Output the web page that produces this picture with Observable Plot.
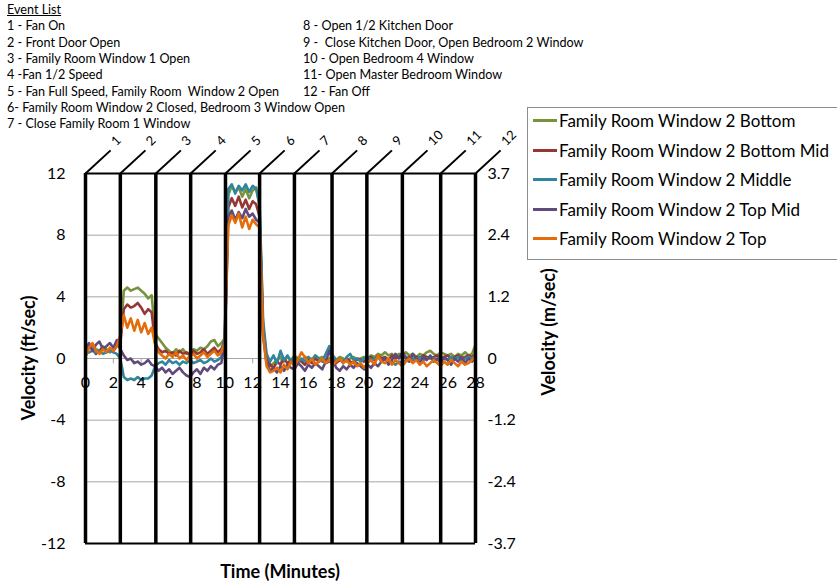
<!DOCTYPE html>
<html>
<head>
<meta charset="utf-8">
<script src="https://cdn.jsdelivr.net/npm/d3@7"></script>
<script src="https://cdn.jsdelivr.net/npm/@observablehq/plot@0.6"></script>
<style>
  body { margin: 0; background: #fff; font-family: Lato, "Open Sans", sans-serif; }
  #wrap { position: relative; width: 837px; height: 583px; overflow: hidden; }
  #chart { position: absolute; left: 0; top: 0; }
  .ev { position: absolute; font-size: 12.6px; line-height: 16.3px; color: #000; white-space: pre; }
  .title { position: absolute; font-size: 18px; font-weight: bold; white-space: nowrap; color: #000; }
  #legend { position: absolute; left: 527px; top: 107px; width: 320px; height: 153px; border: 1px solid #8c8c8c; background: #fff; box-sizing: border-box; }
  .lg { position: absolute; left: 5px; font-size: 17px; white-space: nowrap; display: flex; align-items: center; }
  .lg span.sw { display: inline-block; width: 24px; height: 0; border-top: 3px solid; margin-right: 2px; }
</style>
</head>
<body>
<div id="wrap">
  <div id="chart"></div>
  <div id="events"></div>
  <div id="legend"></div>
  <div class="title" id="ylab" style="left:28px; top:358px; transform: translate(-50%,-50%) rotate(-90deg);">Velocity (ft/sec)</div>
  <div class="title" id="ylab2" style="left:548px; top:332px; transform: translate(-50%,-50%) rotate(-90deg);">Velocity (m/sec)</div>
  <div class="title" id="xlab" style="left:280px; top:571px; transform: translate(-50%,-50%);">Time (Minutes)</div>
</div>
<script>
// ---- data ----
const minutes = [0,0.25,0.5,0.75,1,1.25,1.5,1.75,2,2.25,2.5,2.75,3,3.25,3.5,3.75,4,4.25,4.5,4.75,
  5,5.25,5.5,5.75,6,6.25,6.5,6.75,7,7.25,7.5,7.75,8,8.25,8.5,8.75,9,9.25,9.5,9.75,
  10,10.25,10.5,10.75,11,11.25,11.5,11.75,12,12.25,12.5,12.75,13,13.25,13.5,13.75,14,14.25,14.5,14.75,
  15,15.25,15.5,15.75,16,16.25,16.5,16.75,17,17.25,17.5,17.75,18,18.25,18.5,18.75,19,19.25,19.5,19.75,
  20,20.25,20.5,20.75,21,21.25,21.5,21.75,22,22.25,22.5,22.75,23,23.25,23.5,23.75,24,24.25,24.5,24.75,
  25,25.25,25.5,25.75,26,26.25,26.5,26.75,27,27.25,27.5,27.75,28];

const seriesNames = ["Family Room Window 2 Bottom","Family Room Window 2 Bottom Mid","Family Room Window 2 Middle","Family Room Window 2 Top Mid","Family Room Window 2 Top"];
const seriesColors = ["#77933C","#953735","#31859C","#604A7B","#E46C0A"];

const bottom = [0.3,0.7,0.9,0.6,0.5,0.8,0.6,0.4,0.7,0.9,
  1.2,4.4,4.6,4.4,4.5,4.6,4.4,4.2,3.9,4.1,
  1.6,1.3,1.0,0.7,0.5,0.3,0.6,0.4,0.6,0.3,
  0.4,0.6,0.5,0.7,0.6,0.8,1.1,1.2,0.8,1.0,
  1.3,10.6,11.2,10.8,11.1,10.5,11.0,10.4,10.9,11.1,
  9.8,2.0,0.1,-0.5,-0.3,-0.1,0.1,-0.2,0.1,-0.1,
  0.2,0.0,-0.2,0.1,0.0,-0.1,0.2,0.0,0.1,-0.1,
  0.0,0.2,-0.1,0.1,0.0,-0.2,0.0,0.1,-0.1,0.0,
  0.1,0.0,0.2,0.1,0.3,0.2,0.4,0.2,0.3,0.1,
  0.3,0.2,0.4,0.2,0.3,0.1,0.3,0.2,0.4,0.5,
  0.3,0.2,0.4,0.3,0.2,0.3,0.1,0.3,0.2,0.4,
  0.2,0.3,0.9];
const bottomMid = [0.5,0.8,0.6,0.3,0.5,0.7,0.4,0.6,0.5,0.8,
  1.0,3.2,3.5,3.3,3.4,3.6,3.3,2.9,3.2,3.0,
  1.0,0.6,0.4,0.5,0.3,0.4,0.2,0.5,0.3,0.4,
  0.2,0.5,0.3,0.4,0.6,0.3,0.5,0.7,0.4,0.6,
  1.2,9.8,10.4,9.9,10.5,9.8,10.3,9.7,10.2,10.0,
  9.2,1.8,0.0,-0.4,-0.6,-0.2,-0.4,0.0,-0.3,-0.1,
  -0.3,0.0,-0.2,-0.4,-0.1,-0.3,0.0,-0.2,-0.1,-0.3,
  -0.2,0.0,-0.3,-0.1,-0.2,0.0,-0.2,-0.3,0.0,-0.1,
  -0.2,0.0,0.1,-0.1,0.2,0.0,0.1,-0.1,0.2,0.0,
  0.1,0.2,0.0,0.1,-0.1,0.1,0.0,0.2,0.1,0.0,
  0.1,0.2,0.0,0.1,0.2,0.0,0.1,0.2,0.0,0.1,
  0.2,0.1,0.3];
const middle = [0.3,0.4,0.5,0.4,0.5,0.3,0.4,0.5,0.4,0.3,
  0.0,-1.2,-1.4,-1.3,-1.4,-1.2,-1.4,-1.3,-1.3,-1.1,
  -0.5,-0.3,-0.2,-0.4,-0.1,-0.3,-0.2,-0.4,-0.2,-0.3,
  -0.1,-0.3,-0.2,-0.1,-0.3,-0.2,0.0,-0.2,-0.1,0.1,
  1.5,11.0,11.3,10.7,11.2,10.9,11.3,10.8,11.2,11.0,
  10.0,2.5,0.3,-0.2,0.2,-0.3,0.5,-0.1,0.2,-0.2,
  0.1,-0.3,0.0,-0.2,0.1,-0.1,0.2,0.0,-0.2,0.3,
  0.8,0.2,-0.1,0.0,-0.3,0.1,0.3,-0.1,0.0,-0.2,
  0.0,0.1,-0.1,0.0,0.1,-0.2,0.0,-0.3,-0.2,-0.4,
  -0.2,-0.3,-0.1,-0.2,0.0,-0.1,0.1,-0.1,0.0,0.1,
  0.0,-0.1,0.1,0.0,-0.1,0.1,0.0,0.1,-0.1,0.0,
  0.1,0.0,0.2];
const topMid = [0.6,1.0,0.5,0.9,1.1,0.6,0.8,1.0,0.7,1.2,
  0.6,0.2,-0.1,0.0,-0.3,-0.2,-0.4,-0.3,-0.1,-0.4,
  -0.5,-0.8,-0.6,-0.9,-0.7,-1.0,-0.8,-0.6,-0.9,-1.1,
  -1.2,-0.9,-0.7,-1.0,-0.6,-0.8,-0.5,-0.7,-0.4,-0.3,
  1.0,9.2,9.6,9.0,9.5,9.1,9.7,9.2,9.4,9.0,
  8.8,1.5,-0.3,-0.8,-0.6,-0.9,-0.5,-0.8,-0.4,-0.6,
  -0.7,-0.3,-0.5,-0.8,-0.4,-0.6,-0.3,-0.5,-0.7,-0.2,
  0.5,-0.1,-0.6,-0.8,-0.5,-0.7,-0.4,-0.6,-0.3,-0.5,
  -0.7,-0.4,-0.6,-0.3,-0.5,-0.2,0.0,-0.4,-0.1,0.3,
  0.0,0.4,0.1,-0.2,0.3,0.0,-0.3,0.1,-0.1,0.2,
  -0.2,0.0,-0.3,0.1,-0.1,-0.4,0.0,-0.2,0.1,-0.3,
  0.0,-0.2,0.1];
const topSeries = [0.1,0.7,1.0,0.5,0.3,0.6,0.4,0.7,0.5,0.8,
  1.5,2.8,2.0,2.6,1.8,2.5,1.7,2.3,1.6,2.0,
  0.9,0.4,0.2,0.0,0.3,0.1,0.4,0.0,0.2,-0.1,
  0.2,0.3,0.0,0.2,0.4,0.1,0.3,0.5,0.2,0.4,
  1.0,8.6,9.3,8.8,9.4,8.5,9.2,8.4,9.0,8.7,
  8.5,1.5,-0.5,-0.9,-0.8,-0.6,-0.9,-0.4,-0.7,-0.2,
  -0.5,-0.1,0.4,0.1,-0.3,0.0,-0.4,-0.2,0.0,-0.3,
  -0.1,-0.4,-0.2,0.0,-0.3,-0.1,-0.4,-0.2,-0.5,-0.3,
  -0.6,-0.3,-0.1,-0.4,0.2,-0.2,-0.3,0.0,-0.4,-0.1,
  -0.3,-0.5,-0.2,0.0,-0.3,-0.1,-0.4,-0.2,-0.5,-0.3,
  -0.1,-0.3,-0.5,-0.2,-0.4,-0.1,-0.3,-0.5,-0.2,-0.4,
  -0.3,-0.1,0.2];

const eventIds = ["1","2","3","4","5","6","7","8","9","10","11","12"];
const eventMinutes = [0, 2.5, 5.05, 7.55, 10.05, 12.5, 15.0, 17.7, 20.2, 22.75, 25.5, 28];
const eventText = [
  "1 - Fan On",
  "2 - Front Door Open",
  "3 - Family Room Window 1 Open",
  "4 -Fan 1/2 Speed",
  "5 - Fan Full Speed, Family Room  Window 2 Open",
  "6- Family Room Window 2 Closed, Bedroom 3 Window Open",
  "7 - Close Family Room 1 Window",
  "8 - Open 1/2 Kitchen Door",
  "9 -  Close Kitchen Door, Open Bedroom 2 Window",
  "10 - Open Bedroom 4 Window",
  "11- Open Master Bedroom Window",
  "12 - Fan Off"
];

const xTicks = [0,2,4,6,8,10,12,14,16,18,20,22,24,26,28];
const yTicks = [-12,-8,-4,0,4,8,12];
const yTicksMeters = ["-3.7","-2.4","-1.2","0","1.2","2.4","3.7"];
const gridValues = [-8,-4,4,8];

// ---- build ----
const seriesValues = [bottom, bottomMid, middle, topMid, topSeries];
const rows = [];
seriesValues.forEach((vals, s) => vals.forEach((v, i) => rows.push({t: minutes[i], v, name: seriesNames[s]})));
const events = eventIds.map((id, i) => ({id, t: eventMinutes[i]}));

const chart = Plot.plot({
  width: 837, height: 583,
  marginLeft: 85, marginRight: 362, marginTop: 173, marginBottom: 40,
  x: {domain: [0, 28], axis: null},
  y: {domain: [-12, 12], axis: null},
  color: {domain: seriesNames, range: seriesColors},
  style: {fontFamily: "Lato, 'Open Sans', sans-serif", background: "transparent", color: "#000"},
  marks: [
    Plot.ruleY(gridValues, {stroke: "#a6a6a6", strokeWidth: 1}),
    Plot.ruleY([0], {stroke: "#a6a6a6", strokeWidth: 1}),
    Plot.ruleX(xTicks, {x: d => d, y1: 0, y2: -0.35, stroke: "#a6a6a6"}),
    Plot.line(rows, {x: "t", y: "v", z: "name", stroke: "name", strokeWidth: 2.6, strokeLinejoin: "round"}),
    Plot.ruleY([-12, 12], {stroke: "#000", strokeWidth: 2}),
    Plot.ruleX(events, {x: "t", y1: -12, y2: 12, stroke: "#000", strokeWidth: 3.5}),
    Plot.link(events, {x1: "t", y1: 12, x2: d => d.t + 1.8, y2: 13.5, stroke: "#000", strokeWidth: 2}),
    Plot.text(events, {x: "t", y: 12, dx: 28, dy: -30, text: "id", rotate: -45, textAnchor: "start", fontSize: 13, fill: "#000"}),
    Plot.text(xTicks, {x: d => d, y: 0, dy: 24, text: d => String(d), fontSize: 16, fill: "#000"}),
    Plot.axisY({anchor: "left", ticks: yTicks, tickSize: 0, tickPadding: 20, fontSize: 16, label: null, fill: "#000",
      tickFormat: d => String(d)}),
    Plot.axisY({anchor: "right", ticks: yTicks, tickSize: 0, tickPadding: 12, fontSize: 16, label: null, fill: "#000",
      tickFormat: d => yTicksMeters[yTicks.indexOf(d)]})
  ]
});
document.getElementById("chart").appendChild(chart);

// event list
const evDiv = document.getElementById("events");
const head = document.createElement("div");
head.className = "ev"; head.style.left = "7px"; head.style.top = "2px";
head.style.textDecoration = "underline"; head.textContent = "Event List";
evDiv.appendChild(head);
eventText.forEach((txt, i) => {
  const d = document.createElement("div");
  d.className = "ev";
  const col = i < 7 ? 0 : 1;
  const row = i < 7 ? i + 1 : i - 6;
  d.style.left = (col ? 303 : 7) + "px";
  d.style.top = (2 + row * 16.3) + "px";
  d.textContent = txt;
  evDiv.appendChild(d);
});

// legend
const lg = document.getElementById("legend");
seriesNames.forEach((n, i) => {
  const d = document.createElement("div");
  d.className = "lg";
  d.style.top = (2 + i * 29.5) + "px";
  const sw = document.createElement("span");
  sw.className = "sw"; sw.style.borderColor = seriesColors[i];
  d.appendChild(sw);
  d.appendChild(document.createTextNode(n));
  lg.appendChild(d);
});
</script>
</body>
</html>
